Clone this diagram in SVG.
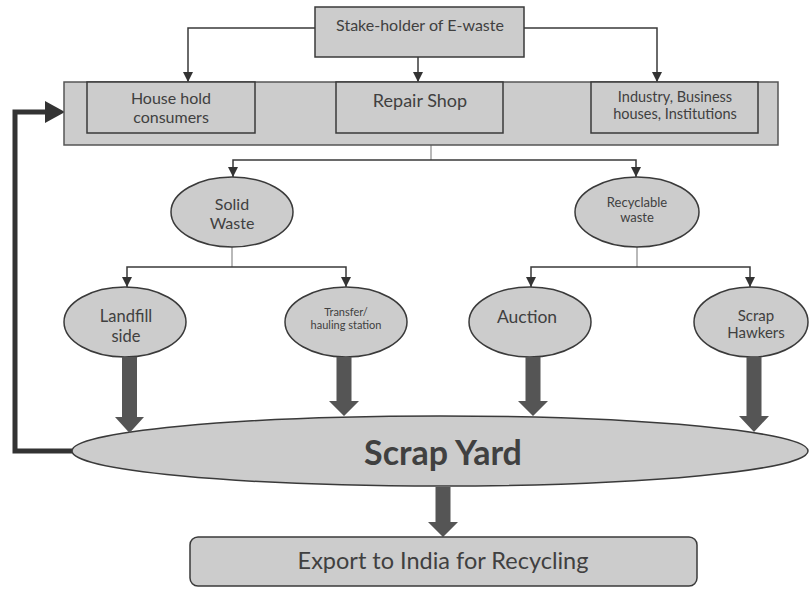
<svg xmlns="http://www.w3.org/2000/svg" width="809" height="592" viewBox="0 0 809 592">
<style>
.box{fill:#cccccc;stroke:#3a3a3a;stroke-width:1.5}
.outer{fill:#cccccc;stroke:#555;stroke-width:1.5}
.t{font-family:Lato,"Open Sans",sans-serif;fill:#404040;text-anchor:middle}
.ln{fill:none;stroke:#3a3a3a;stroke-width:1.5}
.stub{fill:none;stroke:#8a8a8a;stroke-width:1.2}
.big{fill:#555555}
</style>
<defs>
<marker id="ah" viewBox="0 0 10 10" refX="10" refY="5" markerWidth="10" markerHeight="10" markerUnits="userSpaceOnUse" orient="auto">
<path d="M0,0 L10,5 L0,10 Z" fill="#333"/>
</marker>
</defs>
<g id="connectors">
<path class="ln" d="M315,28 H188 V82" marker-end="url(#ah)"/>
<path class="ln" d="M418,57 V82" marker-end="url(#ah)"/>
<path class="ln" d="M524,28 H657 V82" marker-end="url(#ah)"/>
<path class="stub" d="M431,145 V160"/>
<path class="ln" d="M431,160 H233 V177" marker-end="url(#ah)"/>
<path class="ln" d="M431,160 H636 V177" marker-end="url(#ah)"/>
<path class="stub" d="M232,247 V267"/>
<path class="ln" d="M232,267 H127 V287" marker-end="url(#ah)"/>
<path class="ln" d="M232,267 H346 V287" marker-end="url(#ah)"/>
<path class="stub" d="M637,247 V267"/>
<path class="ln" d="M637,267 H531 V287" marker-end="url(#ah)"/>
<path class="ln" d="M637,267 H750 V287" marker-end="url(#ah)"/>
<path d="M72,451 H15 V112 H47" fill="none" stroke="#333" stroke-width="5"/>
<polygon points="45,101 65,112 45,123" fill="#333"/>
</g>
<g id="stakeholder">
<rect class="box" x="315" y="7" width="209" height="50"/>
<text class="t" x="420" y="31" font-size="16">Stake-holder of E-waste</text>
</g>
<g id="sources">
<rect class="outer" x="64" y="82" width="714" height="63"/>
</g>
<g id="household">
<rect class="box" x="87" y="82" width="168" height="51"/>
<text class="t" x="171" y="104" font-size="16">House hold</text>
<text class="t" x="171" y="123" font-size="16">consumers</text>
</g>
<g id="repair">
<rect class="box" x="336" y="82" width="167" height="51"/>
<text class="t" x="420" y="106.5" font-size="18">Repair Shop</text>
</g>
<g id="industry">
<rect class="box" x="591" y="82" width="167" height="51"/>
<text class="t" x="675" y="102" font-size="14.5">Industry, Business</text>
<text class="t" x="675" y="118.5" font-size="14.5">houses, Institutions</text>
</g>
<g id="solid">
<ellipse class="box" cx="232" cy="212" rx="61" ry="35"/>
<text class="t" x="232" y="210" font-size="16">Solid</text>
<text class="t" x="232" y="229" font-size="16">Waste</text>
</g>
<g id="recyclable">
<ellipse class="box" cx="637" cy="212" rx="62" ry="35"/>
<text class="t" x="637" y="206.5" font-size="13">Recyclable</text>
<text class="t" x="637" y="221.5" font-size="13">waste</text>
</g>
<g id="landfill">
<ellipse class="box" cx="125" cy="322" rx="61" ry="35"/>
<text class="t" x="126" y="322" font-size="16.5">Landfill</text>
<text class="t" x="126" y="342" font-size="16.5">side</text>
</g>
<g id="transfer">
<ellipse class="box" cx="346" cy="322" rx="61" ry="35"/>
<text class="t" x="346" y="316" font-size="11">Transfer/</text>
<text class="t" x="346" y="329" font-size="11">hauling station</text>
</g>
<g id="auction">
<ellipse class="box" cx="530" cy="322" rx="61" ry="35"/>
<text class="t" x="527" y="323" font-size="17.5">Auction</text>
</g>
<g id="hawkers">
<ellipse class="box" cx="751" cy="322" rx="57" ry="35"/>
<text class="t" x="756" y="320.5" font-size="15">Scrap</text>
<text class="t" x="756" y="337.5" font-size="15">Hawkers</text>
</g>
<g id="scrapyard">
<ellipse class="box" cx="440" cy="451" rx="368" ry="35"/>
<text class="t" x="443" y="465" font-size="34" font-weight="bold" fill="#333">Scrap Yard</text>
</g>
<g id="thick-arrows">
<polygon class="big" points="122,357 137,357 137,417 144,417 129.5,433 115,417 122,417"/>
<polygon class="big" points="336.5,357 351.5,357 351.5,401 359,401 344,416 329,401 336.5,401"/>
<polygon class="big" points="525.5,357 540.5,357 540.5,401 548,401 533,416 518,401 525.5,401"/>
<polygon class="big" points="746.5,357 761.5,357 761.5,416 769,416 754,432 739,416 746.5,416"/>
<polygon class="big" points="435.5,487 450.5,487 450.5,522 458,522 443,537 428,522 435.5,522"/>
</g>
<g id="export">
<rect class="box" x="190" y="537" width="507" height="49" rx="8"/>
<text class="t" x="443" y="569" font-size="23.5">Export to India for Recycling</text>
</g>
</svg>
